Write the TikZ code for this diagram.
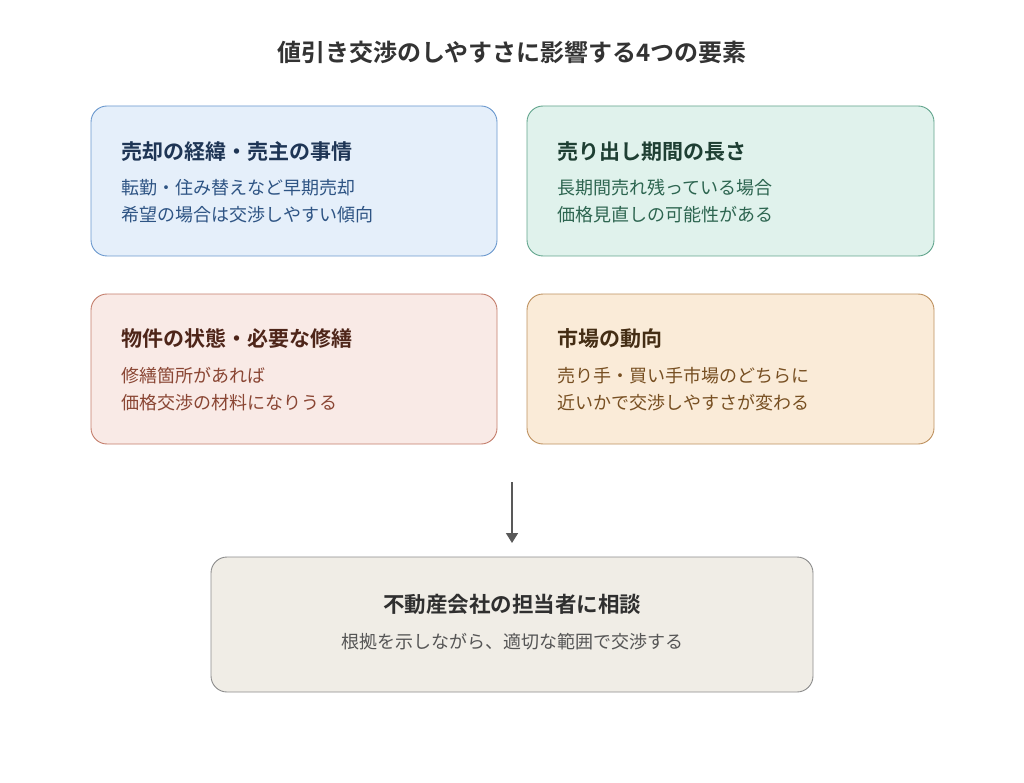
\documentclass[tikz,border=0pt]{standalone}
\usepackage{fontspec}
\setmainfont{Noto Sans CJK JP}[BoldFont={Noto Sans CJK JP Bold}]
\usetikzlibrary{arrows.meta}
\definecolor{bAfill}{HTML}{E5EFFA}\definecolor{bAdraw}{HTML}{6A98CE}\definecolor{bAhead}{HTML}{1E3555}\definecolor{bAbody}{HTML}{2E5484}
\definecolor{bBfill}{HTML}{E0F2EC}\definecolor{bBdraw}{HTML}{62A58D}\definecolor{bBhead}{HTML}{1E3F33}\definecolor{bBbody}{HTML}{2D6550}
\definecolor{bCfill}{HTML}{F9EAE6}\definecolor{bCdraw}{HTML}{C47E6C}\definecolor{bChead}{HTML}{4E2519}\definecolor{bCbody}{HTML}{8A4634}
\definecolor{bDfill}{HTML}{FAEBD8}\definecolor{bDdraw}{HTML}{BE915F}\definecolor{bDhead}{HTML}{442D14}\definecolor{bDbody}{HTML}{774F22}
\definecolor{bEfill}{HTML}{F0EDE6}\definecolor{bEdraw}{HTML}{8C8C8C}\definecolor{bEhead}{HTML}{2F2F2F}\definecolor{bEbody}{HTML}{555555}
\tikzset{
  card/.style={draw=#1draw, fill=#1fill, line width=0.9pt, rounded corners=16pt},
  headtxt/.style={font=\fontsize{21}{24}\selectfont\bfseries, inner sep=0pt, text height=0.83em, text depth=0.07em},
  bodytxt/.style={font=\fontsize{18}{21}\selectfont, inner sep=0pt, text height=0.83em, text depth=0.07em},
  headbig/.style={font=\fontsize{21.5}{24}\selectfont\bfseries, inner sep=0pt, text height=0.83em, text depth=0.07em},
  titletxt/.style={font=\fontsize{24}{27}\selectfont\bfseries, text=black!80, inner sep=0pt, text height=0.83em, text depth=0.07em},
  flowarrow/.style={draw=black!65, line width=1.6pt, -{Triangle[length=10pt,width=12pt]}}
}
\begin{document}
\begin{tikzpicture}[x=1pt,y=-1pt]
\useasboundingbox (0,0) rectangle (1024,783);
\fill[white] (0,0) rectangle (1024,783);
\node[titletxt] (title) at (512,58) {値引き交渉のしやすさに影響する4つの要素};

\path[card=bA] (91,106) rectangle (497,256);
\node[headtxt, text=bAhead, anchor=west] (hA) at (121,156) {売却の経緯・売主の事情};
\node[bodytxt, text=bAbody, anchor=west] (tA1) at (121,191) {転勤・住み替えなど早期売却};
\node[bodytxt, text=bAbody, anchor=west] (tA2) at (121,218) {希望の場合は交渉しやすい傾向};

\path[card=bB] (527,106) rectangle (934,256);
\node[headtxt, text=bBhead, anchor=west] (hB) at (557,156) {売り出し期間の長さ};
\node[bodytxt, text=bBbody, anchor=west] (tB1) at (557,191) {長期間売れ残っている場合};
\node[bodytxt, text=bBbody, anchor=west] (tB2) at (557,218) {価格見直しの可能性がある};

\path[card=bC] (91,294) rectangle (497,444);
\node[headtxt, text=bChead, anchor=west] (hC) at (121,343) {物件の状態・必要な修繕};
\node[bodytxt, text=bCbody, anchor=west] (tC1) at (121,379) {修繕箇所があれば};
\node[bodytxt, text=bCbody, anchor=west] (tC2) at (121,406) {価格交渉の材料になりうる};

\path[card=bD] (527,294) rectangle (934,444);
\node[headtxt, text=bDhead, anchor=west] (hD) at (557,343) {市場の動向};
\node[bodytxt, text=bDbody, anchor=west] (tD1) at (557,379) {売り手・買い手市場のどちらに};
\node[bodytxt, text=bDbody, anchor=west] (tD2) at (557,406) {近いかで交渉しやすさが変わる};

\path[card=bE] (211,557) rectangle (813,692);
\node[headbig, text=bEhead] (hE) at (512,609) {不動産会社の担当者に相談};
\node[bodytxt, text=bEbody] (tE) at (512,645) {根拠を示しながら、適切な範囲で交渉する};

\coordinate (arrS) at (512,482);
\coordinate (arrE) at (512,543);
\draw[flowarrow] (arrS) -- (arrE);
\end{tikzpicture}
\end{document}
